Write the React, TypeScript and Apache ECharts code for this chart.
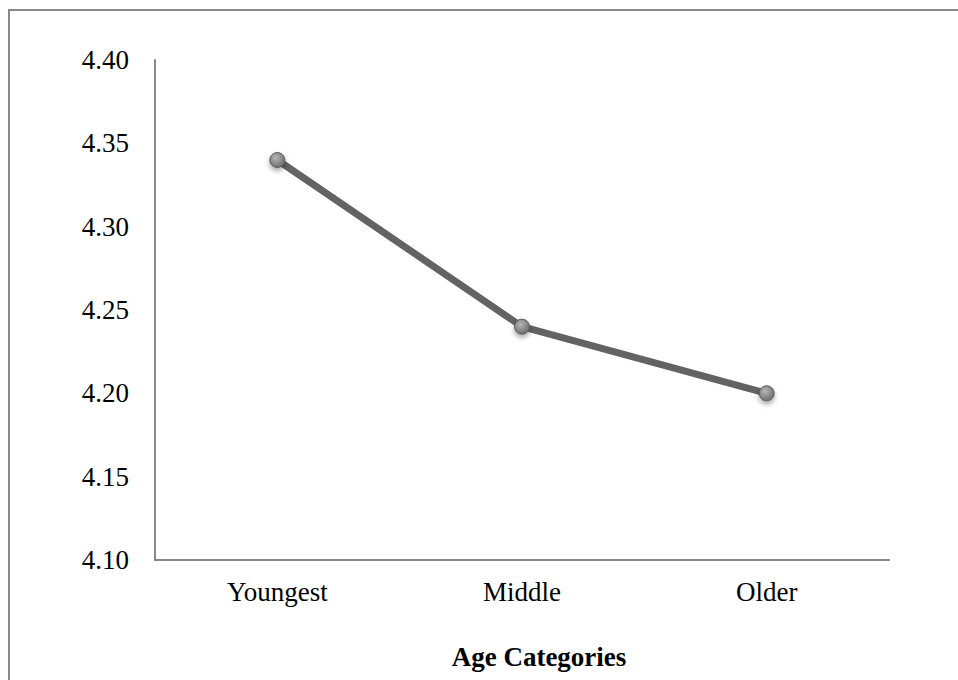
import React, { useEffect, useRef } from "react";
import * as echarts from "echarts";

const categories = ["Youngest", "Middle", "Older"];
const values = [4.34, 4.24, 4.2];
const yMin = 4.1;
const yMax = 4.4;
const yInterval = 0.05;
const axisTitle = "Age Categories";

export default function App() {
  const ref = useRef<HTMLDivElement>(null);
  useEffect(() => {
    document.body.style.margin = "0";
    document.body.style.overflow = "hidden";
    if (!ref.current) return;
    const chart = echarts.init(ref.current, undefined, { renderer: "svg" });
    const font = "'Liberation Serif', 'Times New Roman', serif";
    chart.setOption({
      animation: false,
      backgroundColor: "#ffffff",
      grid: { left: 155, top: 60, width: 734, height: 500 },
      xAxis: {
        type: "category",
        data: categories,
        boundaryGap: true,
        axisLine: { show: true, lineStyle: { color: "#888888", width: 2 } },
        axisTick: { show: false },
        axisLabel: { color: "#000", fontFamily: font, fontSize: 27, margin: 18 },
        splitLine: { show: false },
      },
      yAxis: {
        type: "value",
        min: yMin,
        max: yMax,
        interval: yInterval,
        axisLine: { show: true, lineStyle: { color: "#888888", width: 2 } },
        axisTick: { show: false },
        splitLine: { show: false },
        axisLabel: {
          color: "#000",
          fontFamily: font,
          fontSize: 27,
          margin: 26,
          formatter: (v: number) => v.toFixed(2),
        },
      },
      graphic: [
        {
          type: "line",
          shape: { x1: 9, y1: 10, x2: 9, y2: 690 },
          style: { stroke: "#888888", lineWidth: 2 },
        },
        {
          type: "line",
          shape: { x1: 8, y1: 10, x2: 970, y2: 10 },
          style: { stroke: "#888888", lineWidth: 2 },
        },
        {
          type: "text",
          x: 539,
          y: 657,
          style: {
            text: axisTitle,
            font: `bold 27px ${font}`,
            fill: "#000",
            align: "center",
            verticalAlign: "middle",
          },
        },
      ],
      series: [
        {
          type: "line",
          data: values,
          symbol: "circle",
          symbolSize: 15,
          lineStyle: { color: "#636363", width: 7 },
          itemStyle: {
            color: {
              type: "radial",
              x: 0.4,
              y: 0.35,
              r: 0.7,
              colorStops: [
                { offset: 0, color: "#b5b5b5" },
                { offset: 1, color: "#6a6a6a" },
              ],
            },
            borderColor: "#5a5a5a",
            borderWidth: 1,
            shadowBlur: 5,
            shadowColor: "rgba(0,0,0,0.35)",
            shadowOffsetY: 3,
          },
        },
      ],
    });
    return () => chart.dispose();
  }, []);
  return <div ref={ref} style={{ width: 958, height: 680, overflow: "hidden" }} />;
}
